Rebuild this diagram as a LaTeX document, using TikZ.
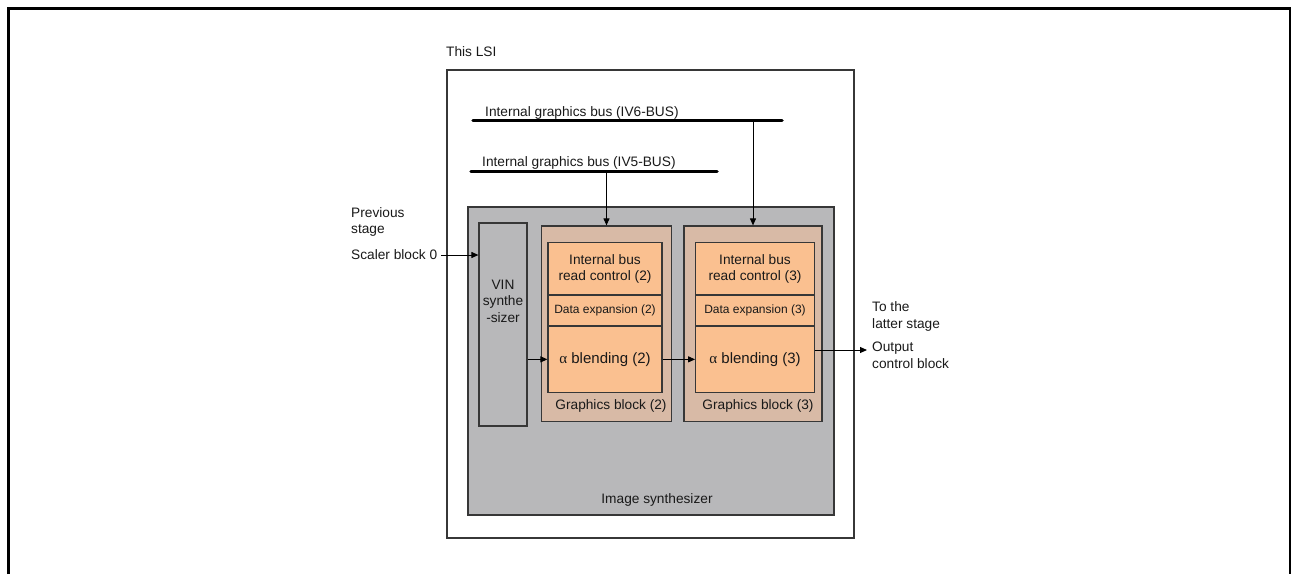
\documentclass[tikz,border=0pt]{standalone}
\usepackage{fontspec}
\setmainfont{Liberation Sans}
\newfontfamily\greekfont{Liberation Serif}
\usetikzlibrary{arrows.meta}
\definecolor{synthgray}{RGB}{184,184,186}
\definecolor{blocktan}{RGB}{216,186,166}
\definecolor{unitorange}{RGB}{250,192,144}
\definecolor{edgegray}{RGB}{55,55,55}
\begin{document}
\begin{tikzpicture}[x=1pt, y=-1pt,
    every node/.style={font=\fontsize{13.7}{16.5}\selectfont, text=black!90},
    txt/.style={inner sep=0pt, align=left},
    box/.style={draw=edgegray, line width=1.2pt, inner sep=0pt},
    unit/.style={box, fill=unitorange, align=center},
    bus/.style={line width=3.5pt, line cap=round},
    arr/.style={-{Triangle[length=7pt, width=6pt]}, line width=1pt}]
    \useasboundingbox (0,0) rectangle (1291,574);
    \draw[line width=3pt] (8.5,574) -- (8.5,8.5) -- (1290.5,8.5);
    \draw[line width=1.5pt] (1290,8.5) -- (1290,574);

    \node[box, minimum width=407pt, minimum height=468pt] (lsi) at (650.5,304) {};
    \node[txt, anchor=west] (lsilbl) at (446,52) {This LSI};

    \coordinate (iv6w) at (473,120.7);
    \coordinate (iv6e) at (782,120.7);
    \draw[bus] (iv6w) -- (iv6e);
    \node[txt, anchor=west] (iv6lbl) at (485,113) {Internal graphics bus (IV6-BUS)};
    \coordinate (iv5w) at (471,171.7);
    \coordinate (iv5e) at (717,171.7);
    \draw[bus] (iv5w) -- (iv5e);
    \node[txt, anchor=west] (iv5lbl) at (482,162.7) {Internal graphics bus (IV5-BUS)};

    \node[box, fill=synthgray, minimum width=366pt, minimum height=308pt] (synth) at (651,361) {};
    \node[txt] (synthlbl) at (657,500) {Image synthesizer};

    \node[box, fill=synthgray, minimum width=48pt, minimum height=203pt] (vin) at (503,324.5) {};
    \node[txt, align=center] (vinlbl) at (503,301) {VIN\\synthe\\-sizer};

    \node[box, fill=blocktan, minimum width=130pt, minimum height=195.5pt] (gb2) at (606.5,323.75) {};
    \node[unit, minimum width=114pt, minimum height=52.3pt] (rc2) at (605,268.85) {Internal bus\\read control (2)};
    \node[unit, minimum width=114pt, minimum height=31pt, font=\fontsize{12}{14}\selectfont] (de2) at (605,310.5) {Data expansion (2)};
    \node[unit, minimum width=114pt, minimum height=66.7pt, font=\fontsize{15}{18}\selectfont] (ab2) at (605,359.35) {{\greekfont α} blending (2)};
    \node[txt] (gb2lbl) at (611,405.7) {Graphics block (2)};

    \node[box, fill=blocktan, minimum width=138pt, minimum height=195.5pt] (gb3) at (753,323.75) {};
    \node[unit, minimum width=118.6pt, minimum height=52.3pt] (rc3) at (755,268.85) {Internal bus\\read control (3)};
    \node[unit, minimum width=118.6pt, minimum height=31pt, font=\fontsize{12}{14}\selectfont] (de3) at (755,310.5) {Data expansion (3)};
    \node[unit, minimum width=118.6pt, minimum height=66.7pt, font=\fontsize{15}{18}\selectfont] (ab3) at (755,359.35) {{\greekfont α} blending (3)};
    \node[txt] (gb3lbl) at (758,405.7) {Graphics block (3)};

    \draw[arr] (gb2.north |- iv5w) -- (gb2.north);
    \draw[arr] (gb3.north |- iv6w) -- (gb3.north);

    \node[txt, anchor=west] (prevlbl) at (351,222) {Previous\\stage};
    \node[txt, anchor=west] (scaler) at (351,255) {Scaler block 0};
    \draw[arr] ([xshift=4pt]scaler.east) -- (scaler.east -| vin.west);
    \draw[arr] (vin.east |- ab2.west) -- (ab2.west);
    \draw[arr] (ab2.east) -- (ab3.west);
    \coordinate (outp) at (867,350);
    \draw[arr] (outp -| ab3.east) -- (outp);
    \node[txt, anchor=west] (latterlbl) at (872,316.5) {To the\\latter stage};
    \node[txt, anchor=west] (outlbl) at (872,355.5) {Output\\control block};
\end{tikzpicture}
\end{document}
